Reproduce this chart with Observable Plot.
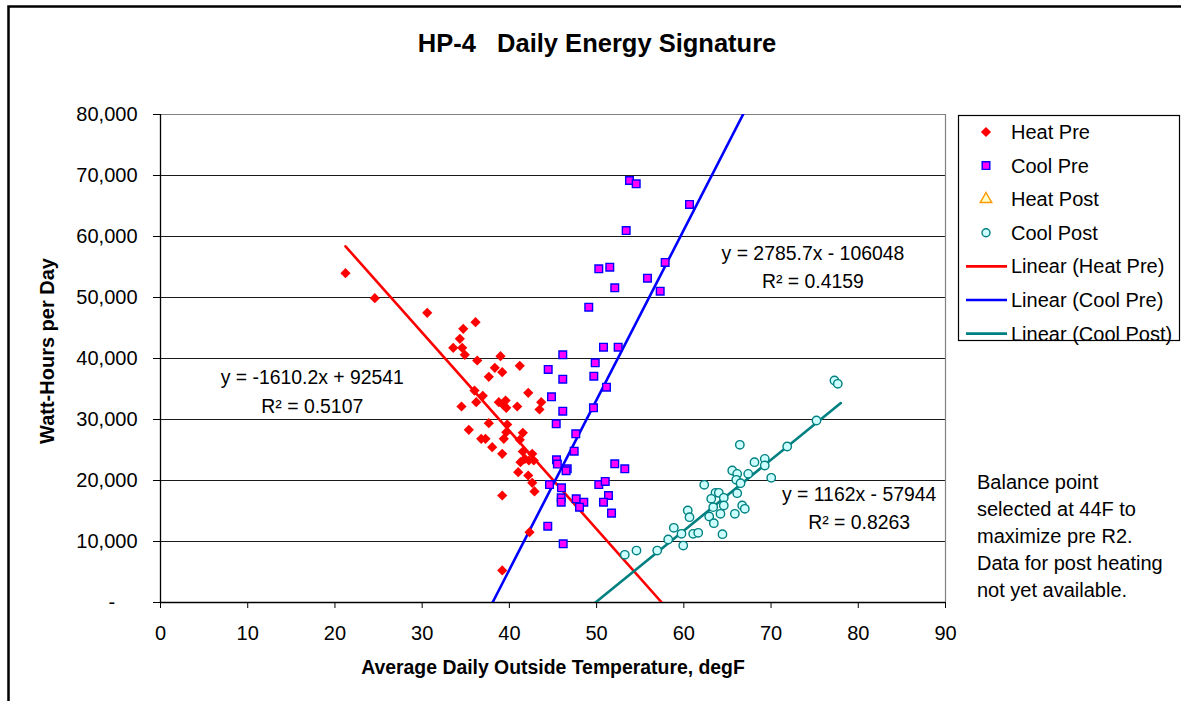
<!DOCTYPE html>
<html>
<head>
<meta charset="utf-8">
<script src="https://cdn.jsdelivr.net/npm/d3@7"></script>
<script src="https://cdn.jsdelivr.net/npm/@observablehq/plot@0.6"></script>
<style>
  html, body { margin: 0; padding: 0; background: #fff; }
  body { font-family: "Liberation Sans", Arial, sans-serif; }
</style>
</head>
<body>
<div id="chart"></div>
<script>
// ---------- data ----------
const heatPreTemp = [21.21,24.57,30.58,36.12,34.71,34.32,33.56,34.59,34.89,36.31,38.98,41.19,38.33,39.18,37.64,36.00,36.95,36.20,34.51,38.79,39.56,39.36,40.90,42.16,43.65,43.45,39.64,37.64,35.35,39.75,36.77,37.26,38.03,39.18,39.64,39.36,41.54,41.19,41.54,42.62,41.77,41.27,42.23,42.80,41.01,42.16,42.62,42.88,39.18,42.31,39.18];
const heatPreWh   = [53980,49890,47490,45950,44870,43230,41750,41750,40600,39670,40380,38800,38470,37750,37000,34750,33880,32840,32130,32840,33110,32300,32130,34370,32840,31640,31910,29390,28310,29180,26830,26830,25460,24370,27910,26830,27820,26670,24750,24370,23550,23000,23280,23280,21360,20820,19620,18200,17540,11520,5250];

const coolPreTemp = [53.77,54.54,60.65,53.39,50.25,51.51,57.86,55.83,52.08,57.29,49.10,50.79,52.47,46.12,49.84,44.45,46.12,49.68,51.13,44.83,46.12,49.64,45.37,47.61,47.43,52.08,53.23,45.40,46.63,45.50,46.50,44.60,45.97,45.94,45.94,47.66,48.53,48.04,50.25,50.99,51.36,50.79,51.71,44.40,46.17];
const coolPreWh   = [69180,68640,65250,60980,54700,54970,55740,53170,51590,51040,48410,41850,41850,40600,39290,38200,36610,37100,35300,33720,31360,31910,29290,27650,24810,22730,21910,23390,21910,22700,21600,19340,18800,17160,16450,17000,16450,15630,19340,19840,17540,16450,14650,12510,9620];

const coolPostTemp = [77.27,77.65,75.21,71.85,66.42,68.10,69.28,69.28,70.02,67.38,65.55,66.12,66.01,66.50,66.12,62.34,63.63,64.01,63.14,64.58,63.37,64.58,64.20,62.91,63.44,65.85,66.69,66.99,64.43,60.45,60.65,58.85,58.21,61.07,61.65,59.73,59.93,56.95,54.57,53.23];
const coolPostWh   = [36390,35850,29840,25570,25850,23000,23550,22460,20440,21090,21640,21090,20110,19560,17920,19290,17980,17980,17000,17160,15630,15900,14540,14100,13000,14540,15900,15360,11200,15080,13980,12240,10330,11260,11420,11260,9340,8520,8520,7820];

// trendline coefficients (as printed on the chart)
const fitNames      = ["Heat Pre", "Cool Pre", "Cool Post"];
const fitSlope      = [-1610.2, 2785.7, 1162];
const fitIntercept  = [92541, -106048, -57944];
const fitR2         = ["0.5107", "0.4159", "0.8263"];
const fitXStart     = [21.21, null, null];   // null = start where fit crosses 0
const fitXEnd       = [null, 70, 78];        // null = end where fit crosses 0
const eqLabelX      = [17.4, 74.8, 80.1];
const eqLabelY      = [36770, 57160, 17700];
const r2LabelY      = [32130, 52510, 13110];

const xTicks = [0,10,20,30,40,50,60,70,80,90];
const yTicks = [0,10000,20000,30000,40000,50000,60000,70000,80000];

const titleText = "HP-4   Daily Energy Signature";
const xLabel = "Average Daily Outside Temperature, degF";
const yLabel = "Watt-Hours per Day";
const legendLabels = ["Heat Pre","Cool Pre","Heat Post","Cool Post","Linear (Heat Pre)","Linear (Cool Pre)","Linear (Cool Post)"];
const noteLines = ["Balance point","selected at 44F to","maximize pre R2.","Data for post heating","not yet available."];

// ---------- build tables ----------
const heatPre  = heatPreTemp.map((t,i)=>({t, w: heatPreWh[i]}));
const coolPre  = coolPreTemp.map((t,i)=>({t, w: coolPreWh[i]}));
const coolPost = coolPostTemp.map((t,i)=>({t, w: coolPostWh[i]}));

function fitLine(i){
  const m = fitSlope[i], b = fitIntercept[i], root = -b/m;
  const x0 = fitXStart[i] ?? root, x1 = fitXEnd[i] ?? root;
  return [{t:x0, w:m*x0+b, s:fitNames[i]}, {t:x1, w:m*x1+b, s:fitNames[i]}];
}
const lines = [0,1,2].map(fitLine);
const eqLabels = [0,1,2].map(i=>({
  t: eqLabelX[i], w: eqLabelY[i],
  text: `y = ${fitSlope[i]}x ${fitIntercept[i] < 0 ? "-" : "+"} ${Math.abs(fitIntercept[i])}`
}));
const r2Labels = [0,1,2].map(i=>({t: eqLabelX[i], w: r2LabelY[i], text: `R\u00B2 = ${fitR2[i]}`}));

const FONT = "Liberation Sans, Arial, sans-serif";
const RED = "#ff0000", BLUE = "#0000ff", TEAL = "#008080", MAG = "#ff00ff", CYAN = "#ccffff";

const plot = Plot.plot({
  width: 1181, height: 701,
  marginLeft: 160, marginRight: 236, marginTop: 114, marginBottom: 99,
  style: {fontFamily: FONT, background: "white", overflow: "visible", color: "black"},
  x: {domain: [0, 90]},
  y: {domain: [0, 80000]},
  marks: [
    Plot.ruleY(yTicks.filter(v => v > 0 && v < 80000), {stroke: "#1a1a1a", strokeWidth: 1}),
    Plot.ruleY([80000], {stroke: "#808080", strokeWidth: 1.2}),
    Plot.ruleX([90], {stroke: "#808080", strokeWidth: 1.2}),
    Plot.ruleX([0], {stroke: "black", strokeWidth: 1.3}),
    Plot.ruleY([0], {stroke: "black", strokeWidth: 1.3}),
    Plot.axisY({ticks: yTicks, tickSize: 7, tickPadding: 16, fontSize: 20, label: null,
      tickFormat: d => d === 0 ? "-\u2007\u2007" : d3.format(",")(d)}),
    Plot.axisX({ticks: xTicks, tickSize: 6, tickPadding: 17, fontSize: 20, label: null}),
    Plot.line(lines[0], {x: "t", y: "w", stroke: RED, strokeWidth: 2.6, clip: true}),
    Plot.line(lines[1], {x: "t", y: "w", stroke: BLUE, strokeWidth: 2.6, clip: true}),
    Plot.line(lines[2], {x: "t", y: "w", stroke: TEAL, strokeWidth: 2.6, clip: true}),
    Plot.dot(heatPre, {x: "t", y: "w", symbol: "diamond2", r: 4.6, fill: RED, stroke: "none"}),
    Plot.dot(coolPre, {x: "t", y: "w", symbol: "square", r: 4.3, fill: MAG, stroke: BLUE, strokeWidth: 1.4}),
    Plot.dot(coolPost, {x: "t", y: "w", symbol: "circle", r: 4.2, fill: CYAN, stroke: TEAL, strokeWidth: 1.4}),
    Plot.text(eqLabels, {x: "t", y: "w", text: "text", fontSize: 19.4, fill: "black", textAnchor: "middle"}),
    Plot.text(r2Labels, {x: "t", y: "w", text: "text", fontSize: 19.4, fill: "black", textAnchor: "middle"})
  ]
});

document.getElementById("chart").appendChild(plot);

// ---------- extra chart furniture (title, axis titles, legend, note, border) ----------
const svg = d3.select(plot);
const g = svg.append("g").attr("font-family", FONT).attr("text-anchor", "start");

// outer chart border (left + top)
g.append("path").attr("d", "M8.5,701 L8.5,6.5 L1181,6.5").attr("fill", "none").attr("stroke", "black").attr("stroke-width", 2.5);

g.append("text").attr("x", 597).attr("y", 43).attr("dy", "0.35em").attr("text-anchor", "middle")
  .attr("font-weight", "bold").attr("font-size", 25.5).attr("fill", "black").text(titleText);

g.append("text").attr("x", 553).attr("y", 667).attr("dy", "0.35em").attr("text-anchor", "middle")
  .attr("font-weight", "bold").attr("font-size", 19.4).attr("fill", "black").text(xLabel);

g.append("text").attr("transform", "translate(47,351) rotate(-90)").attr("dy", "0.35em").attr("text-anchor", "middle")
  .attr("font-weight", "bold").attr("font-size", 20).attr("fill", "black").text(yLabel);

// legend
const lg = g.append("g");
lg.append("rect").attr("x", 958.5).attr("y", 115.5).attr("width", 221).attr("height", 225)
  .attr("fill", "white").attr("stroke", "black").attr("stroke-width", 1.2);
const legendStyle = [
  {kind: "sym", sym: d3.symbolDiamond2, r: 4.6, fill: RED, stroke: "none"},
  {kind: "sym", sym: d3.symbolSquare, r: 4.3, fill: MAG, stroke: BLUE},
  {kind: "sym", sym: d3.symbolTriangle, r: 4.3, fill: "#ffffcc", stroke: "#ff9900"},
  {kind: "sym", sym: d3.symbolCircle, r: 4.0, fill: CYAN, stroke: TEAL},
  {kind: "line", stroke: RED},
  {kind: "line", stroke: BLUE},
  {kind: "line", stroke: TEAL}
];
legendLabels.forEach((lab, i) => {
  const y = 132 + i * 33.6;
  const st = legendStyle[i];
  if (st.kind === "sym") {
    lg.append("path").attr("transform", `translate(986,${y})`)
      .attr("d", d3.symbol(st.sym, Math.PI * st.r * st.r)())
      .attr("fill", st.fill).attr("stroke", st.stroke).attr("stroke-width", 1.4);
  } else {
    lg.append("line").attr("x1", 966).attr("x2", 1007).attr("y1", y).attr("y2", y)
      .attr("stroke", st.stroke).attr("stroke-width", 2.6);
  }
  lg.append("text").attr("x", 1011).attr("y", y).attr("dy", "0.35em").attr("font-size", 20)
    .attr("text-anchor", "start").attr("fill", "black").text(lab);
});

// note
noteLines.forEach((line, i) => {
  g.append("text").attr("x", 977).attr("y", 482 + i * 27).attr("dy", "0.35em").attr("font-size", 20)
    .attr("text-anchor", "start").attr("fill", "black").text(line);
});
</script>
</body>
</html>
